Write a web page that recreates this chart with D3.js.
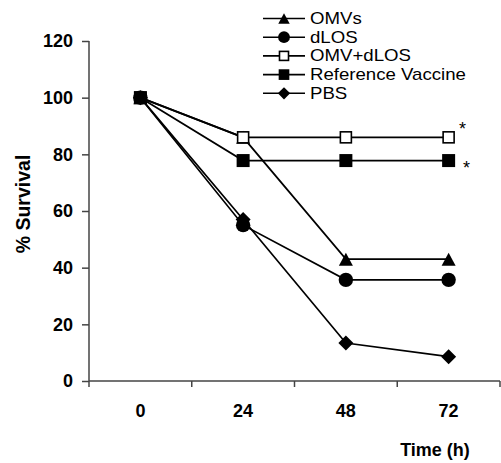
<!DOCTYPE html>
<html><head><meta charset="utf-8">
<script src="https://cdn.jsdelivr.net/npm/d3@7/dist/d3.min.js"></script>
<style>body{margin:0;background:#fff}</style>
</head><body>
<script>
const categories = ["0", "24", "48", "72"];
const seriesNames = ["OMVs", "dLOS", "OMV+dLOS", "Reference Vaccine", "PBS"];
const omvs = [100, 86, 43, 43];
const dlos = [100, 55, 35.7, 35.7];
const omvDlos = [100, 86, 86, 86];
const refVaccine = [100, 77.8, 77.8, 77.8];
const pbs = [100, 57, 13.4, 8.6];
const yTicks = [0, 20, 40, 60, 80, 100, 120];
const seriesData = [omvs, dlos, omvDlos, refVaccine, pbs];
const symbols = ["triangle", "circle", "squareOpen", "square", "diamond"];

const W = 501, H = 463;
const svg = d3.select("body").append("svg").attr("width", W).attr("height", H);
const x = d3.scaleBand().domain(categories).range([89, 500]);
const y = d3.scaleLinear().domain([0, 120]).range([381, 41]);
const font = "Arial, 'Liberation Sans', sans-serif";

// axes
const yAxis = svg.append("g").attr("transform", "translate(89,0)")
  .call(d3.axisLeft(y).tickValues(yTicks).tickSize(7).tickPadding(9));
const xAxis = svg.append("g").attr("transform", "translate(0,381)")
  .call(d3.axisBottom(x).tickSize(0).tickPadding(23));
[yAxis, xAxis].forEach(a => {
  a.attr("font-size", 18).attr("font-family", font);
  a.select(".domain").attr("stroke", "#444").attr("stroke-width", 1.5);
  a.selectAll("text").attr("font-family", font).attr("font-weight", "bold").attr("font-size", 18).attr("fill", "#000");
  a.selectAll("line").attr("stroke", "#444").attr("stroke-width", 1.5);
});
yAxis.select(".domain").attr("d", "M0,41V381");
xAxis.select(".domain").attr("d", "M89,0H500");
// x boundary ticks
const xb = [89, ...categories.map(c => x(c) + x.bandwidth())];
xAxis.selectAll(".bt").data(xb).enter().append("line")
  .attr("x1", d => d).attr("x2", d => d).attr("y1", 0).attr("y2", 6)
  .attr("stroke", "#444").attr("stroke-width", 1.5);

svg.append("text").attr("transform", "translate(30,204) rotate(-90)")
  .attr("text-anchor", "middle").attr("font-family", font).attr("font-weight", "bold")
  .attr("font-size", 19.5).text("% Survival");
svg.append("text").attr("x", 435).attr("y", 456)
  .attr("text-anchor", "middle").attr("font-family", font).attr("font-weight", "bold")
  .attr("font-size", 18).text("Time (h)");

const cx = c => x(c) + x.bandwidth() / 2;
function drawMarker(g, type, px, py, s) {
  if (type === "triangle") {
    const w = 14 * s, h = 13 * s;
    g.append("path").attr("d", `M${px},${py-h/2}L${px+w/2},${py+h/2}L${px-w/2},${py+h/2}Z`).attr("fill", "#000");
  } else if (type === "circle") {
    g.append("circle").attr("cx", px).attr("cy", py).attr("r", 7.2 * s).attr("fill", "#000");
  } else if (type === "squareOpen") {
    const h = 5.5 * s;
    g.append("rect").attr("x", px - h).attr("y", py - h).attr("width", 2*h).attr("height", 2*h).attr("fill", "#fff").attr("stroke", "#000").attr("stroke-width", 1.6);
  } else if (type === "square") {
    const h = 6.5 * s;
    g.append("rect").attr("x", px - h).attr("y", py - h).attr("width", 2*h).attr("height", 2*h).attr("fill", "#000");
  } else if (type === "diamond") {
    const h = 7.5 * s;
    g.append("path").attr("d", `M${px},${py-h}L${px+h},${py}L${px},${py+h}L${px-h},${py}Z`).attr("fill", "#000");
  }
}

const line = d3.line().x((d, i) => cx(categories[i])).y(d => y(d));
seriesData.forEach((s, k) => {
  svg.append("path").datum(s).attr("d", line).attr("fill", "none").attr("stroke", "#000").attr("stroke-width", 1.7);
});
seriesData.forEach((s, k) => {
  const g = svg.append("g");
  s.forEach((v, i) => drawMarker(g, symbols[k], cx(categories[i]), y(v), 1));
});

// asterisks
svg.append("text").attr("x", 459).attr("y", 135).attr("font-family", font).attr("font-size", 18).text("*");
svg.append("text").attr("x", 463).attr("y", 174).attr("font-family", font).attr("font-size", 18).text("*");

// legend (text slightly condensed vertically, as in the reference)
const legY = [18.5, 37.2, 55.9, 74.6, 93.3];
seriesNames.forEach((n, k) => {
  const g = svg.append("g");
  g.append("line").attr("x1", 263).attr("x2", 305).attr("y1", legY[k]).attr("y2", legY[k]).attr("stroke", "#000").attr("stroke-width", 1.6);
  drawMarker(g, symbols[k], 284, legY[k], 0.82);
  const t = g.append("text").attr("x", 310).attr("y", legY[k]).attr("dy", "0.33em")
    .attr("font-family", font).attr("font-size", 16.2).text(n);
  const len = t.node().getComputedTextLength();
  t.attr("textLength", len * 1.15).attr("lengthAdjust", "spacingAndGlyphs");
});
</script>
</body></html>
